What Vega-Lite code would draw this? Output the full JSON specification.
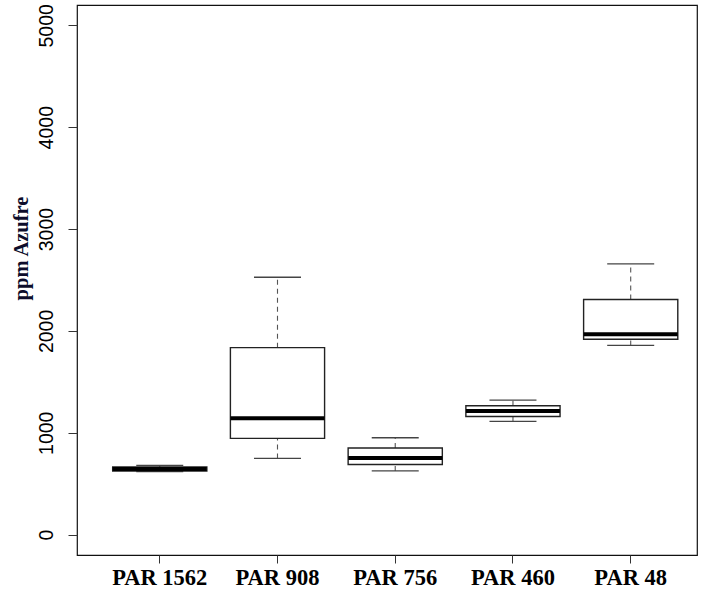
{
  "$schema": "https://vega.github.io/schema/vega-lite/v6.json",
  "width": 620,
  "height": 550,
  "autosize": "none",
  "padding": {"left": 77, "top": 5, "right": 6, "bottom": 37},
  "background": "white",
  "config": {
    "view": {"stroke": "#111", "strokeWidth": 1.2},
    "axis": {"grid": false, "domain": false},
    "tick": {"opacity": 1},
    "bar": {"opacity": 1}
  },
  "data": {
    "values": [
      {"muestra": "PAR 1562", "min": 620, "q1": 625, "mediana": 645, "q3": 665, "max": 680},
      {"muestra": "PAR 908", "min": 748, "q1": 945, "mediana": 1142, "q3": 1836, "max": 2527},
      {"muestra": "PAR 756", "min": 625, "q1": 688, "mediana": 753, "q3": 851, "max": 951},
      {"muestra": "PAR 460", "min": 1111, "q1": 1160, "mediana": 1213, "q3": 1266, "max": 1321},
      {"muestra": "PAR 48", "min": 1858, "q1": 1918, "mediana": 1967, "q3": 2309, "max": 2659}
    ]
  },
  "encoding": {
    "x": {
      "field": "muestra",
      "type": "nominal",
      "sort": null,
      "title": null,
      "scale": {"paddingInner": 0.2, "paddingOuter": 0.233, "align": 0.65},
      "axis": {
        "labelAngle": 0,
        "labelFont": "Liberation Serif",
        "labelFontWeight": "bold",
        "labelFontSize": 22.5,
        "labelColor": "#000",
        "labelPadding": 3,
        "tickSize": 8,
        "tickColor": "#333",
        "tickWidth": 1
      }
    }
  },
  "layer": [
    {
      "mark": {"type": "rule", "strokeDash": [5, 4], "stroke": "#555", "strokeWidth": 1.1},
      "encoding": {
        "y": {
          "field": "q3",
          "type": "quantitative",
          "scale": {"domain": [-200, 5200], "nice": false, "zero": false},
          "title": "ppm Azufre",
          "axis": {
            "values": [0, 1000, 2000, 3000, 4000, 5000],
            "format": "d",
            "labelAngle": 270,
            "labelAlign": "center",
            "labelBaseline": "alphabetic",
            "labelFont": "Liberation Sans",
            "labelFontSize": 19.5,
            "labelColor": "#000",
            "labelPadding": 16,
            "tickSize": 9,
            "tickColor": "#333",
            "tickWidth": 1,
            "titleFont": "Liberation Serif",
            "titleFontWeight": "bold",
            "titleFontSize": 20.5,
            "titleColor": "#0d0d2b",
            "titleAngle": 270,
            "titleAlign": "center",
            "titleBaseline": "middle",
            "titleX": -56,
            "titleY": 243
          }
        },
        "y2": {"field": "max"}
      }
    },
    {
      "mark": {"type": "rule", "strokeDash": [5, 4], "stroke": "#555", "strokeWidth": 1.1},
      "encoding": {
        "y": {"field": "min", "type": "quantitative"},
        "y2": {"field": "q1"}
      }
    },
    {
      "mark": {"type": "tick", "orient": "horizontal", "size": 47, "thickness": 1.3, "color": "#444"},
      "encoding": {"y": {"field": "max", "type": "quantitative"}}
    },
    {
      "mark": {"type": "tick", "orient": "horizontal", "size": 47, "thickness": 1.3, "color": "#444"},
      "encoding": {"y": {"field": "min", "type": "quantitative"}}
    },
    {
      "mark": {"type": "bar", "fill": "white", "stroke": "#222", "strokeWidth": 1.4},
      "encoding": {
        "y": {"field": "q1", "type": "quantitative"},
        "y2": {"field": "q3"}
      }
    },
    {
      "mark": {"type": "tick", "orient": "horizontal", "size": 94, "thickness": 4, "color": "#000"},
      "encoding": {"y": {"field": "mediana", "type": "quantitative"}}
    }
  ]
}
